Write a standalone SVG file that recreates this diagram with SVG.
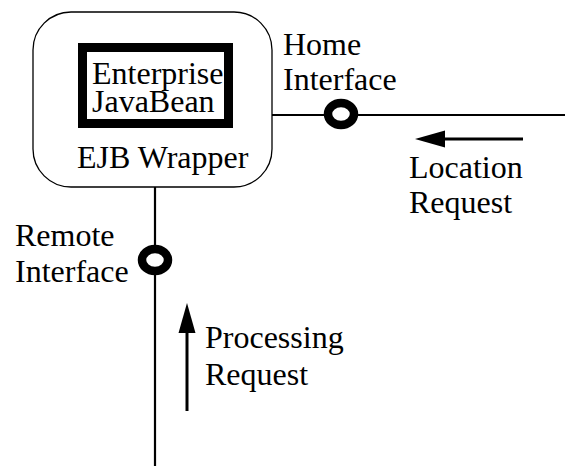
<svg xmlns="http://www.w3.org/2000/svg" width="565" height="466" viewBox="0 0 565 466">
<style>
  text { font-family: "Liberation Serif", "Times New Roman", serif; font-size: 32px; fill: #000; }
  .wire { stroke: #000; stroke-width: 2.2; fill: none; }
  .flow { stroke: #000; stroke-width: 3; fill: none; }
  .port { stroke: #000; stroke-width: 8.5; fill: #fff; }
  .head { fill: #000; stroke: none; }
</style>
<rect width="565" height="466" fill="#fff"/>
<g id="connectors">
  <line class="wire" x1="272" y1="115" x2="565" y2="115"/>
  <line class="wire" x1="155" y1="187" x2="155" y2="466"/>
</g>
<g id="ejb-wrapper">
  <rect x="33" y="12" width="239" height="175" rx="38" ry="38" fill="#fff" stroke="#000" stroke-width="1.3"/>
  <text x="77" y="168">EJB Wrapper</text>
</g>
<g id="enterprise-javabean">
  <rect x="82.5" y="47.5" width="146" height="76" fill="#fff" stroke="#000" stroke-width="9"/>
  <text x="92" y="84">Enterprise</text>
  <text x="92" y="112">JavaBean</text>
</g>
<g id="home-interface">
  <ellipse class="port" cx="341" cy="114" rx="13" ry="11"/>
  <text x="283" y="55">Home</text>
  <text x="283" y="90">Interface</text>
</g>
<g id="remote-interface">
  <ellipse class="port" cx="155" cy="260" rx="13" ry="11"/>
  <text x="15" y="246">Remote</text>
  <text x="15" y="282">Interface</text>
</g>
<g id="location-request">
  <line class="flow" x1="444" y1="139" x2="523" y2="139"/>
  <polygon class="head" points="415,139 445,130.5 445,147.5"/>
  <text x="409" y="178">Location</text>
  <text x="409" y="213">Request</text>
</g>
<g id="processing-request">
  <line class="flow" x1="187" y1="332" x2="187" y2="411"/>
  <polygon class="head" points="187,303 178.5,333 195.5,333"/>
  <text x="205" y="348">Processing</text>
  <text x="205" y="385">Request</text>
</g>
</svg>
